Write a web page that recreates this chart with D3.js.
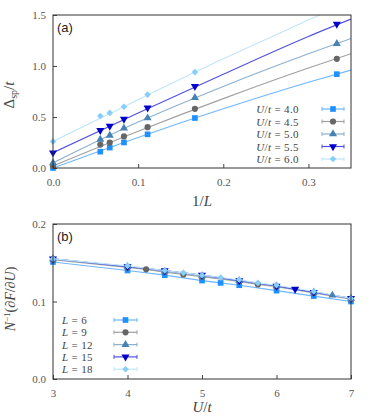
<!DOCTYPE html>
<html>
<head>
<meta charset="utf-8">
<script src="https://cdn.jsdelivr.net/npm/d3@7"></script>
<style>
  body { margin: 0; background: #fff; }
  .tick text { font-family: "Liberation Serif", "DejaVu Serif", serif; font-size: 11px; fill: #555; }
  .math { font-family: "Liberation Serif", "DejaVu Serif", serif; fill: #444; }
</style>
</head>
<body>
<script>
// ---- panel (a) data: gap vs 1/L ----
var invL = [0, 1/18, 1/15, 1/12, 1/9, 1/6, 1/3];
var gapU40 = [0.00, 0.16, 0.20, 0.25, 0.33, 0.49, 0.92];
var gapU45 = [0.02, 0.23, 0.25, 0.31, 0.40, 0.58, 1.07];
var gapU50 = [0.05, 0.28, 0.32, 0.39, 0.49, 0.69, 1.22];
var gapU55 = [0.15, 0.37, 0.41, 0.48, 0.59, 0.80, 1.41];
var gapU60 = [0.26, 0.51, 0.54, 0.60, 0.72, 0.94, null];
// fit curves
var fitX = [0, 0.1, 0.2, 0.3, 0.35];
var fitU40 = [0.00, 0.30, 0.58, 0.84, 0.96];
var fitU45 = [0.02, 0.36, 0.68, 0.98, 1.12];
var fitU50 = [0.05, 0.45, 0.80, 1.12, 1.27];
var fitU55 = [0.15, 0.54, 0.92, 1.29, 1.46];
var fitU60 = [0.26, 0.67, 1.07, 1.45, 1.64];
var labelsA = ["4.0", "4.5", "5.0", "5.5", "6.0"];

// ---- panel (b) data: N^-1 dF/dU vs U/t ----
var uL6  = [3, 4, 4.5, 5, 5.25, 5.5, 6, 6.5, 7];
var fL6  = [0.151, 0.140, 0.134, 0.127, 0.124, 0.121, 0.114, 0.107, 0.100];
var uL9  = [3, 4, 4.25, 4.5, 4.75, 5, 5.5, 5.75, 6, 6.5, 7];
var fL9  = [0.154, 0.144, 0.1415, 0.138, 0.135, 0.132, 0.126, 0.122, 0.119, 0.111, 0.103];
var uL12 = [3, 4, 4.5, 5, 5.5, 6, 6.5, 6.75, 7];
var fL12 = [0.155, 0.145, 0.139, 0.133, 0.127, 0.120, 0.112, 0.108, 0.104];
var uL15 = [3, 4, 4.5, 5, 5.5, 6, 6.25, 6.5, 7];
var fL15 = [0.155, 0.145, 0.140, 0.134, 0.127, 0.120, 0.116, 0.112, 0.104];
var uL18 = [3, 4, 4.5, 4.75, 5, 5.25, 5.5, 5.75, 6, 6.5, 7];
var fL18 = [0.155, 0.146, 0.140, 0.137, 0.134, 0.131, 0.128, 0.124, 0.121, 0.113, 0.104];
var labelsB = ["6", "9", "12", "15", "18"];

var ticksA_x = [0, 0.1, 0.2, 0.3];
var ticksA_y = [0, 0.5, 1.0, 1.5];
var ticksB_x = [3, 4, 5, 6, 7];
var ticksB_y = [0, 0.1, 0.2];

var colors = ["#1e90ff", "#666666", "#4682b4", "#0000cd", "#87cefa"];
var lineColors = ["#6fb6ff", "#a0a0a0", "#8cb0d0", "#5050e0", "#c0e6fb"];
var shapes = ["square", "circle", "up", "down", "diamond"];

var width = 374, height = 419;
var svg = d3.select("body").append("svg").attr("width", width).attr("height", height);

function marker(g, shape, x, y, color) {
    var sym, rot = 0, size = 32;
    if (shape == "square") { sym = d3.symbolSquare; size = 32; }
    else if (shape == "circle") { sym = d3.symbolCircle; size = 30; }
    else if (shape == "up") { sym = d3.symbolTriangle; size = 28; }
    else if (shape == "down") { sym = d3.symbolTriangle; size = 28; rot = 180; }
    else { sym = d3.symbolSquare; size = 22; rot = 45; }
    g.append("path")
        .attr("d", d3.symbol().type(sym).size(size)())
        .attr("transform", "translate(" + x + "," + y + ") rotate(" + rot + ")")
        .attr("fill", color);
}

function frame(x, y, xTicks, yTicks, fmtX, fmtY) {
    var g = svg.append("g");
    g.append("g").attr("transform", "translate(0," + y.range()[0] + ")")
        .call(d3.axisBottom(x).tickValues(xTicks).tickFormat(fmtX).tickSizeInner(-4).tickSizeOuter(0).tickPadding(10))
        .call(function(a) { a.select(".domain").remove(); a.selectAll("line").attr("stroke", "#444"); });
    g.append("g").attr("transform", "translate(" + x.range()[0] + ",0)")
        .call(d3.axisLeft(y).tickValues(yTicks).tickFormat(fmtY).tickSizeInner(-4).tickSizeOuter(0).tickPadding(7))
        .call(function(a) { a.select(".domain").remove(); a.selectAll("line").attr("stroke", "#444"); });
    g.append("rect")
        .attr("x", x.range()[0]).attr("y", y.range()[1])
        .attr("width", x.range()[1] - x.range()[0]).attr("height", y.range()[0] - y.range()[1])
        .attr("fill", "none").attr("stroke", "#333").attr("stroke-width", 1);
}

function legendRow(g, x0, x1, y, i) {
    g.append("line").attr("x1", x0).attr("x2", x1).attr("y1", y).attr("y2", y)
        .attr("stroke", lineColors[i]).attr("stroke-width", 1.2);
    [x0, x1].forEach(function(xx) {
        g.append("line").attr("x1", xx).attr("x2", xx).attr("y1", y - 2).attr("y2", y + 2)
            .attr("stroke", lineColors[i]).attr("stroke-width", 1);
    });
    marker(g, shapes[i], (x0 + x1) / 2, y, colors[i]);
}

// ================= panel (a) =================
var xA = d3.scaleLinear().domain([0, 0.35]).range([53, 351]);
var yA = d3.scaleLinear().domain([0, 1.5]).range([168, 15]);

svg.append("clipPath").attr("id", "clipA").append("rect")
    .attr("x", 53).attr("y", 15).attr("width", 298).attr("height", 153);

var gapSeries = [gapU40, gapU45, gapU50, gapU55, gapU60];
var fitSeries = [fitU40, fitU45, fitU50, fitU55, fitU60];
var fitLine = d3.line().x(function(d) { return xA(d[0]); }).y(function(d) { return yA(d[1]); })
    .curve(d3.curveMonotoneX);

var gA = svg.append("g");
fitSeries.forEach(function(s, i) {
    gA.append("path")
        .attr("d", fitLine(fitX.map(function(x, j) { return [x, s[j]]; })))
        .attr("fill", "none").attr("stroke", lineColors[i]).attr("stroke-width", 1.1)
        .attr("clip-path", "url(#clipA)");
});
gapSeries.forEach(function(s, i) {
    s.forEach(function(v, j) {
        if (v !== null) marker(gA, shapes[i], xA(invL[j]), yA(v), colors[i]);
    });
});

frame(xA, yA, ticksA_x, ticksA_y, d3.format(".1f"), d3.format(".1f"));

svg.append("text").attr("x", 57).attr("y", 32)
    .style("font-family", "'Liberation Sans', Arial, sans-serif").style("font-size", "13px").attr("fill", "#222")
    .text("(a)");

// legend text in math style: italic symbols, upright numbers
function mathLabel(t, sym, val) {
    sym.forEach(function(p) {
        t.append("tspan").style("font-style", p[1] ? "italic" : "normal").text(p[0]);
    });
    t.append("tspan").attr("dx", 3).text("=");
    t.append("tspan").attr("dx", 3).text(val);
}

var legA = svg.append("g");
labelsA.forEach(function(lab, i) {
    var yy = 109 + i * 12.5;
    var t = legA.append("text").attr("class", "math").attr("x", 299).attr("y", yy + 4)
        .attr("text-anchor", "end").style("font-size", "11px").style("letter-spacing", "0.4px");
    mathLabel(t, [["U", true], ["/", false], ["t", true]], lab);
    legendRow(legA, 322, 344, yy, i);
});

// axis labels (a)
var xlA = svg.append("text").attr("class", "math").attr("x", 202).attr("y", 206)
    .attr("text-anchor", "middle").style("font-size", "15px");
xlA.append("tspan").text("1/");
xlA.append("tspan").style("font-style", "italic").text("L");

var ylA = svg.append("text").attr("class", "math")
    .attr("transform", "translate(14,95) rotate(-90)")
    .attr("text-anchor", "middle").style("font-size", "15px");
ylA.append("tspan").text("Δ");
ylA.append("tspan").attr("dy", 3).style("font-size", "10px").text("sp");
ylA.append("tspan").attr("dy", -3).text("/");
ylA.append("tspan").style("font-style", "italic").text("t");

// ================= panel (b) =================
var xB = d3.scaleLinear().domain([3, 7]).range([53, 351]);
var yB = d3.scaleLinear().domain([0, 0.2]).range([379, 224]);

var uSeries = [uL6, uL9, uL12, uL15, uL18];
var fSeries = [fL6, fL9, fL12, fL15, fL18];
var lineB = d3.line().x(function(d) { return xB(d[0]); }).y(function(d) { return yB(d[1]); });

var gB = svg.append("g");
fSeries.forEach(function(s, i) {
    gB.append("path")
        .attr("d", lineB(uSeries[i].map(function(u, j) { return [u, s[j]]; })))
        .attr("fill", "none").attr("stroke", lineColors[i]).attr("stroke-width", 1.2);
});
fSeries.forEach(function(s, i) {
    s.forEach(function(v, j) { marker(gB, shapes[i], xB(uSeries[i][j]), yB(v), colors[i]); });
});

frame(xB, yB, ticksB_x, ticksB_y, d3.format("d"), d3.format(".1f"));

svg.append("text").attr("x", 57).attr("y", 241)
    .style("font-family", "'Liberation Sans', Arial, sans-serif").style("font-size", "13px").attr("fill", "#222")
    .text("(b)");

var legB = svg.append("g");
labelsB.forEach(function(lab, i) {
    var yy = 320 + i * 12.3;
    var t = legB.append("text").attr("class", "math").attr("x", 62).attr("y", yy + 4)
        .style("font-size", "11px").style("letter-spacing", "0.4px");
    mathLabel(t, [["L", true]], lab);
    legendRow(legB, 114, 137, yy, i);
});

var xlB = svg.append("text").attr("class", "math").attr("x", 202).attr("y", 412)
    .attr("text-anchor", "middle").style("font-size", "15px");
xlB.append("tspan").style("font-style", "italic").text("U");
xlB.append("tspan").text("/");
xlB.append("tspan").style("font-style", "italic").text("t");

var ylB = svg.append("text").attr("class", "math")
    .attr("transform", "translate(15,299) rotate(-90)")
    .attr("text-anchor", "middle").style("font-size", "14px");
ylB.append("tspan").style("font-style", "italic").text("N");
ylB.append("tspan").attr("dy", -5).style("font-size", "9px").text("−1");
ylB.append("tspan").attr("dy", 5).text("(∂");
ylB.append("tspan").style("font-style", "italic").text("F");
ylB.append("tspan").text("/∂");
ylB.append("tspan").style("font-style", "italic").text("U");
ylB.append("tspan").text(")");
</script>
</body>
</html>
